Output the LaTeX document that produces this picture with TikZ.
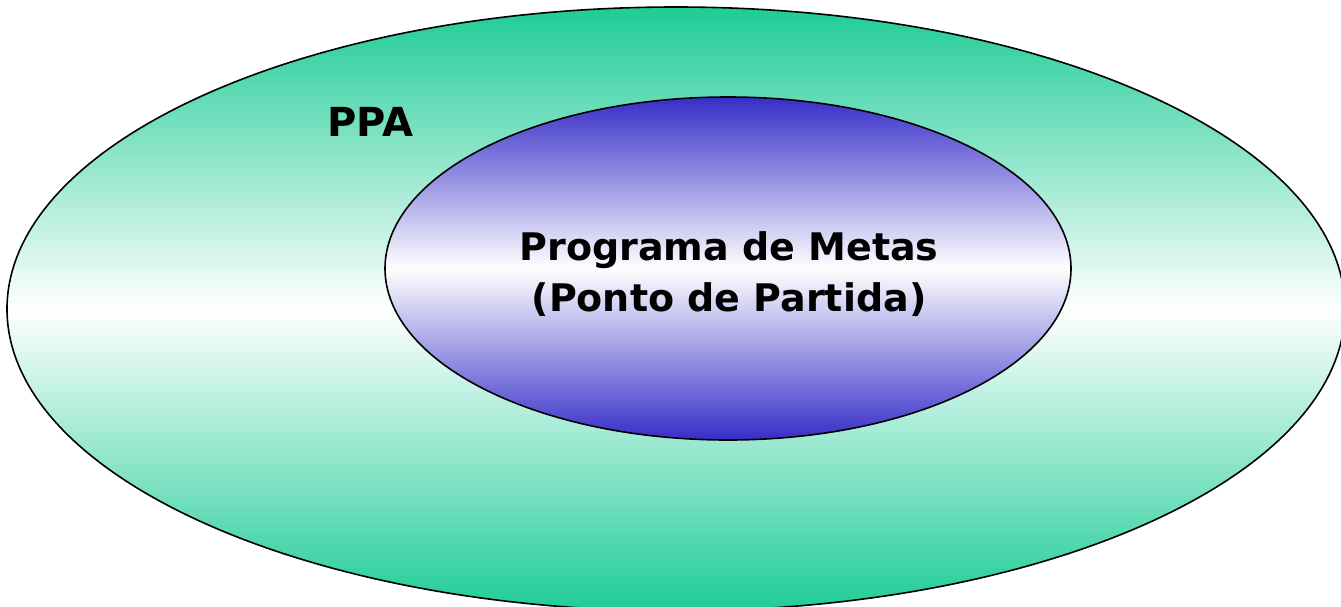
\documentclass[tikz,border=0pt]{standalone}
\usepackage{fontspec}
\setmainfont{DejaVu Sans}
\usetikzlibrary{shapes.geometric}
\definecolor{teal1}{RGB}{30,204,150}
\definecolor{blue1}{RGB}{54,46,200}
\tikzset{
  ring/.style={ellipse, draw=black, line width=1.6pt, inner sep=0pt},
  lbl/.style={font=\bfseries\fontsize{38}{51}\selectfont, align=center, text=black}
}
\begin{document}
\begin{tikzpicture}[x=1pt,y=1pt]
\useasboundingbox (0,0) rectangle (1341,-606);
\node[ring, minimum width=1338pt, minimum height=604pt,
  top color=teal1, bottom color=teal1, middle color=white] (outer) at (676,-309) {};
\node[ring, minimum width=686pt, minimum height=343pt,
  top color=blue1, bottom color=blue1, middle color=white] (inner) at (728,-268.5) {};
\node[lbl] (title) at (729,-274) {Programa de Metas\\(Ponto de Partida)};
\node[lbl, anchor=base, font=\bfseries\fontsize{40}{48}\selectfont] (ppa) at (370,-136) {PPA};
\end{tikzpicture}
\end{document}
